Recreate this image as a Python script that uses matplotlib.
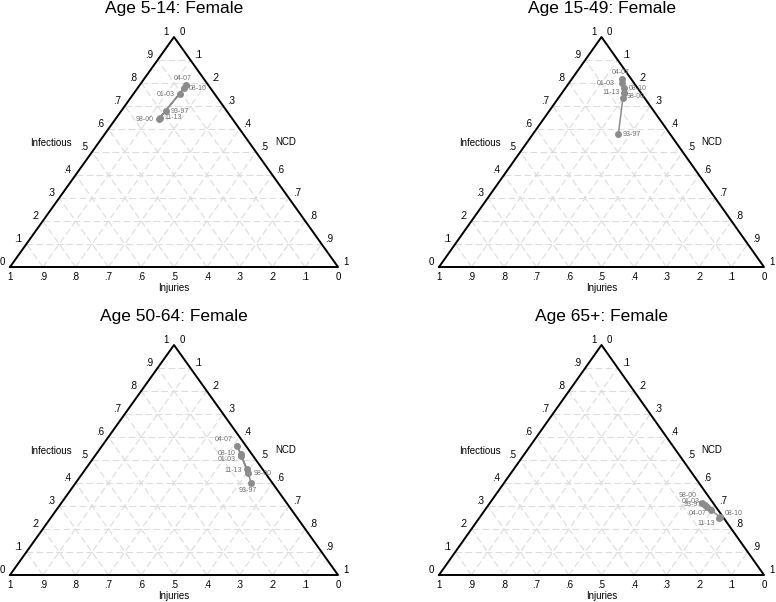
import matplotlib
matplotlib.use("Agg")
import matplotlib.pyplot as plt
import numpy as np

plt.rcParams['font.family'] = ['Liberation Sans', 'DejaVu Sans']

# --- data: shares (Infectious, NCD, Injuries) per period ---
PERIODS = ['93-97', '98-00', '01-03', '04-07', '08-10', '11-13']
TITLES = ['Age 5-14: Female', 'Age 15-49: Female', 'Age 50-64: Female', 'Age 65+: Female']

INF_5_14 = [.678, .643, .752, .791, .778, .648]
NCD_5_14 = [.136, .132, .141, .140, .141, .132]
INJ_5_14 = [.186, .225, .107, .069, .081, .220]

INF_15_49 = [.578, .736, .799, .816, .777, .758]
NCD_15_49 = [.263, .198, .165, .156, .180, .189]
INJ_15_49 = [.159, .066, .036, .028, .043, .053]

INF_50_64 = [.401, .442, .519, .561, .525, .460]
NCD_50_64 = [.535, .505, .445, .413, .441, .493]
INJ_50_64 = [.064, .053, .036, .026, .034, .047]

INF_65 = [.297, .314, .304, .283, .251, .249]
NCD_65 = [.676, .652, .665, .696, .739, .738]
INJ_65 = [.027, .034, .031, .021, .010, .013]

TICKS = [0, .1, .2, .3, .4, .5, .6, .7, .8, .9, 1]
TICK_LABELS = ['0', '.1', '.2', '.3', '.4', '.5', '.6', '.7', '.8', '.9', '1']

# label placement per panel: (ha, dx px, dy px) in PERIODS order
LABEL_POS = [
    [('left', 5, 0), ('right', -5, 0), ('right', -5, 0), ('center', -3, 7), ('left', 5, 0), ('left', 5, 0)],
    [('left', 4, 0), ('left', 4, 1), ('right', -8, 0), ('center', -2, 7), ('left', 5, 0), ('right', -4, 0)],
    [('center', -3, -8), ('left', 5, 0), ('right', -5, -4), ('right', -5, 6), ('right', -5, 1), ('right', -5, -1)],
    [('right', -5, 2), ('right', -5, 7), ('right', -5, 4), ('right', -5, -4), ('left', 5, 4), ('right', -4, -6)],
]

PANELS = [(INF_5_14, NCD_5_14, INJ_5_14), (INF_15_49, NCD_15_49, INJ_15_49),
          (INF_50_64, NCD_50_64, INJ_50_64), (INF_65, NCD_65, INJ_65)]

W, H = 776, 602
# triangle base-left x, base y, width (pixels) for each panel
ORIGINS = [(10, 267, 328), (439, 267, 325), (10, 575, 328), (439, 575, 325)]
TRI_H = 230


def xy(inf, ncd):
    inf = np.asarray(inf); ncd = np.asarray(ncd)
    return ncd + 0.5 * inf, inf


def draw_panel(ax, title, inf, ncd, inj, lpos):
    ax.set_xlim(0, 1); ax.set_ylim(0, 1); ax.axis('off')
    # grid
    gkw = dict(color='#dcdcdc', lw=0.8, dashes=(6, 3), zorder=1)
    for k in TICKS[1:-1]:
        ax.plot([k / 2, 1 - k / 2], [k, k], **gkw)                     # const Infectious
        ax.plot([k, k + (1 - k) / 2], [0, 1 - k], **gkw)                # const NCD
        ax.plot([1 - k, (1 - k) / 2], [0, 1 - k], **gkw)                # const Injuries
    ax.plot([0, 0.5, 1, 0], [0, 1, 0, 0], color='black', lw=1.4, zorder=2, clip_on=False)

    tkw = dict(fontsize=7, ha='center', va='center', textcoords='offset pixels', annotation_clip=False)
    for v, s in zip(TICKS, TICK_LABELS):
        ax.annotate(s, (v / 2, v), xytext=(-8, 5), **tkw)                # Infectious (left)
        px, py = xy(1 - v, v)
        ax.annotate(s, (px, py), xytext=(8, 5), **tkw)                    # NCD (right)
        ax.annotate(s, (1 - v, 0), xytext=(0, -10), **tkw)                # Injuries (bottom)

    ax.text(0.189, 0.539, 'Infectious', fontsize=7, ha='right', va='center')
    ax.text(0.808, 0.545, 'NCD', fontsize=7, ha='left', va='center')
    ax.text(0.5, -0.091, 'Injuries', fontsize=7, ha='center', va='center')
    ax.text(0.5, 1 + 29 / TRI_H, title, fontsize=12.5, ha='center', va='center')

    x, y = xy(inf, ncd)
    ax.plot(x, y, color='#8c8c8c', lw=1.1, marker='o', ms=4, mec='#8c8c8c', zorder=3, clip_on=False)
    for xi, yi, lab, (ha, dx, dy) in zip(x, y, PERIODS, lpos):
        ax.annotate(lab, (xi, yi), xytext=(dx, dy), textcoords='offset pixels',
                    fontsize=5, color='#707070', ha=ha, va='center', zorder=4)


fig = plt.figure(figsize=(W / 100, H / 100), dpi=100)
for i, (title, (inf, ncd, inj)) in enumerate(zip(TITLES, PANELS)):
    x0, y0, tw = ORIGINS[i]
    ax = fig.add_axes([x0 / W, (H - y0) / H, tw / W, TRI_H / H])
    draw_panel(ax, title, inf, ncd, inj, LABEL_POS[i])

fig.savefig('out.png', dpi=100)
